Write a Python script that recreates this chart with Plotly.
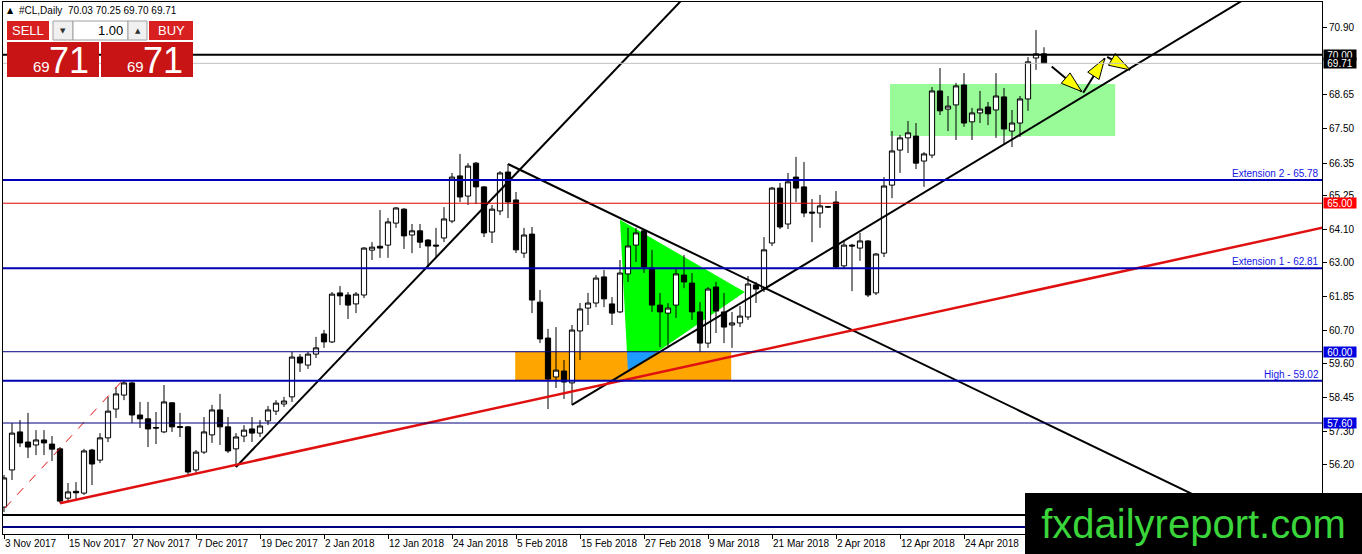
import plotly.graph_objects as go

# ---------------- data ----------------
opens = [54.77, 56.02, 57.30, 56.96, 56.86, 57.03, 56.89, 56.73, 55.07, 55.30,
         55.24, 56.69, 56.35, 57.10, 58.07, 58.54, 58.95, 57.87, 57.74, 57.45,
         57.30, 58.28, 57.48, 57.47, 56.02, 56.62, 57.20, 58.04, 57.47, 56.73,
         57.16, 57.40, 57.26, 57.67, 58.00, 58.24, 58.48, 59.82, 59.55, 59.92,
         60.60, 60.33, 61.98, 61.91, 61.61, 61.91, 63.42, 63.55, 63.59, 64.33,
         64.80, 63.93, 64.07, 63.76, 63.59, 63.83, 64.40, 65.92, 65.24, 66.35,
         65.55, 64.03, 64.74, 66.05, 65.11, 63.32, 63.96, 61.67, 60.46, 59.15,
         59.35, 58.95, 60.70, 61.47, 61.64, 62.52, 61.61, 61.34, 62.62, 63.59,
         64.07, 62.82, 61.57, 61.30, 61.57, 62.58, 62.31, 61.34, 60.29, 62.18,
         61.34, 60.90, 60.97, 61.17, 62.25, 62.11, 63.66, 65.51, 64.30, 65.88,
         65.55, 64.70, 64.67, 64.89, 65.04, 62.89, 63.59, 63.49, 63.73, 61.98,
         63.32, 65.61, 66.79, 67.20, 67.26, 66.42, 66.62, 68.78, 68.17, 68.31,
         68.98, 67.74, 68.04, 68.24, 68.14, 68.58, 67.43, 67.70, 68.51, 69.89,
         70.03]
highs = [55.85, 57.60, 57.70, 57.94, 57.36, 57.36, 57.16, 56.79, 55.58, 55.61,
         56.73, 56.73, 57.26, 58.48, 58.81, 59.01, 58.98, 58.31, 58.31, 57.97,
         58.88, 58.30, 57.94, 57.50, 56.69, 57.80, 58.21, 58.58, 57.80, 57.26,
         57.53, 57.80, 57.70, 58.17, 58.37, 58.48, 59.99, 59.92, 59.99, 60.50,
         60.73, 62.01, 62.21, 62.01, 62.01, 63.52, 63.69, 64.77, 64.50, 64.87,
         64.84, 64.30, 64.30, 63.79, 64.17, 64.87, 66.02, 66.66, 66.35, 66.39,
         65.58, 64.94, 66.08, 66.32, 65.38, 64.17, 64.20, 62.08, 60.77, 60.83,
         59.72, 60.90, 61.64, 61.98, 62.58, 62.75, 61.84, 63.09, 64.17, 64.17,
         64.13, 63.43, 61.98, 61.64, 62.82, 63.26, 62.65, 61.67, 62.18, 62.35,
         61.98, 61.34, 61.54, 62.55, 62.35, 63.86, 65.55, 65.68, 66.02, 66.56,
         66.39, 65.14, 65.28, 64.91, 65.41, 63.76, 63.63, 64.00, 63.76, 63.32,
         65.88, 67.43, 67.30, 67.77, 67.70, 66.72, 68.91, 69.55, 68.61, 69.05,
         69.38, 68.21, 68.78, 68.41, 69.38, 68.88, 68.14, 68.61, 69.92, 70.83,
         70.25]
lows = [54.60, 55.68, 56.79, 56.42, 56.52, 56.52, 56.32, 54.90, 54.94, 55.01,
        55.18, 55.51, 56.25, 56.96, 57.77, 58.37, 57.60, 57.43, 56.79, 56.89,
        57.26, 57.30, 57.13, 55.85, 55.92, 56.56, 56.93, 56.86, 56.59, 56.12,
        56.96, 56.96, 57.13, 57.53, 57.87, 58.14, 58.31, 59.32, 59.42, 59.79,
        60.13, 60.29, 61.57, 61.10, 61.30, 61.81, 63.09, 63.16, 63.16, 64.17,
        63.46, 63.32, 63.49, 62.85, 63.20, 63.69, 64.33, 65.04, 64.94, 64.97,
        63.86, 63.66, 64.60, 64.50, 63.32, 63.16, 61.30, 60.29, 58.07, 58.78,
        58.41, 58.21, 59.72, 60.90, 61.50, 61.50, 60.90, 61.30, 62.35, 63.02,
        62.65, 61.34, 60.16, 60.16, 61.14, 62.14, 61.07, 59.99, 60.13, 60.63,
        60.29, 60.13, 60.83, 61.07, 61.64, 62.01, 63.56, 64.13, 64.13, 65.04,
        64.53, 63.69, 64.17, 64.84, 62.82, 62.82, 62.04, 63.06, 61.84, 61.91,
        63.19, 65.17, 66.02, 66.69, 66.15, 65.55, 66.52, 67.97, 67.43, 67.13,
        67.57, 67.13, 67.70, 67.63, 67.20, 66.96, 66.89, 67.23, 68.11, 69.49,
        69.70]
closes = [55.75, 57.26, 56.93, 56.79, 57.03, 56.93, 56.72, 54.97, 55.28, 55.25,
          56.66, 56.22, 57.10, 58.00, 58.58, 58.95, 57.87, 57.74, 57.40, 57.43,
          58.31, 57.47, 57.45, 55.95, 56.62, 57.30, 58.04, 57.47, 56.66, 57.13,
          57.36, 57.26, 57.50, 58.04, 58.27, 58.34, 59.82, 59.62, 59.92, 60.13,
          60.33, 61.94, 61.88, 61.57, 61.94, 63.49, 63.52, 63.49, 64.37, 64.84,
          63.90, 64.07, 63.69, 63.56, 63.56, 64.47, 65.88, 65.21, 66.25, 65.55,
          64.00, 64.80, 66.02, 65.04, 63.43, 63.93, 61.74, 60.43, 59.08, 59.38,
          58.98, 60.73, 61.44, 61.64, 62.48, 61.78, 61.30, 62.65, 63.56, 64.00,
          62.85, 61.57, 61.34, 61.47, 62.62, 62.35, 61.34, 60.29, 62.11, 61.37,
          60.83, 60.97, 61.20, 62.28, 62.11, 63.43, 65.51, 64.20, 65.72, 65.51,
          64.67, 64.67, 64.91, 64.87, 62.85, 63.59, 63.56, 63.73, 61.91, 63.29,
          65.58, 66.76, 67.20, 67.37, 66.35, 66.66, 68.78, 68.11, 68.27, 68.95,
          67.70, 68.04, 68.17, 68.01, 68.61, 67.50, 67.70, 68.51, 69.76, 70.03,
          69.71]
bar_index = list(range(len(opens)))

date_tick_bars = [0, 8, 16, 24, 32, 40, 48, 56, 64, 72, 80, 88, 96, 104, 112, 120]
date_tick_labels = ["3 Nov 2017", "15 Nov 2017", "27 Nov 2017", "7 Dec 2017", "19 Dec 2017",
                    "2 Jan 2018", "12 Jan 2018", "24 Jan 2018", "5 Feb 2018", "15 Feb 2018",
                    "27 Feb 2018", "9 Mar 2018", "21 Mar 2018", "2 Apr 2018", "12 Apr 2018",
                    "24 Apr 2018"]
price_ticks = [70.90, 68.65, 67.50, 66.35, 65.25, 64.10, 63.00, 61.85,
               60.70, 59.60, 58.45, 57.30, 56.20, 55.10]

# horizontal levels
level_prices = [70.00, 69.71, 65.78, 65.00, 62.81, 60.00, 59.02, 57.60, 54.50, 54.10]
level_colors = ["#000000", "#C0C0C0", "#0000B4", "#E00000", "#0000B4",
                "#000080", "#0000B4", "#000080", "#000000", "#000080"]
level_widths = [2, 1, 2, 1, 2, 1, 2, 1, 2, 2]

level_text = ["Extension 2 - 65.78", "Extension 1 - 62.81", "High - 59.02"]
level_text_prices = [65.78, 62.81, 59.02]

tag_prices = [70.00, 69.71, 65.00, 60.00, 57.60]
tag_colors = ["#000000", "#000000", "#FF0000", "#0000E0", "#0000E0"]

# trend lines (bar index, price)
steep_x, steep_y = [29, 90], [56.12, 73.33]
falling_x, falling_y = [63, 170], [66.32, 52.42]
rising_x, rising_y = [71, 160], [58.21, 72.67]
red_x, red_y = [7, 170], [54.90, 64.48]
dash_x, dash_y = [0.125, 14.75], [54.74, 59.01]

# zones
orange_zone = dict(x0=63.9, x1=90.9, y0=59.02, y1=60.00)
green_zone = dict(x0=110.75, x1=138.9, y0=67.26, y1=69.01)
triangle_x, triangle_y = [77, 92.6, 78], [64.44, 62.01, 59.32]
overlap_x, overlap_y = [77.87, 81.69, 78], [60.00, 60.00, 59.32]

# yellow arrows
arrow_start_x = [130.96, 134.9, 137.9]
arrow_start_y = [69.60, 68.72, 69.93]
arrow_tip_x = [134.71, 137.6, 140.75]
arrow_tip_y = [68.76, 69.88, 69.49]
arrow_angle = [130, 33, 120]

# ---------------- layout helpers ----------------
W, H = 1362, 554
ML, MR, MT, MB = 3, 40, 2, 20
PW, PH = W - ML - MR, H - MT - MB
FONT = "Liberation Sans, Arial, sans-serif"


def fx(px):
    return (px - ML) / PW


def fy(py):
    return (H - MB - py) / PH


def poly(xs, ys):
    return "M" + " L".join(f"{x},{y}" for x, y in zip(xs, ys)) + " Z"


fig = go.Figure()

fig.add_trace(go.Candlestick(
    x=bar_index, open=opens, high=highs, low=lows, close=closes,
    increasing=dict(line=dict(color="black", width=1), fillcolor="white"),
    decreasing=dict(line=dict(color="black", width=1), fillcolor="black"),
    whiskerwidth=0, showlegend=False, hoverinfo="skip"))

for xs, ys, col, wd, dash in [
        (steep_x, steep_y, "black", 2, "solid"),
        (falling_x, falling_y, "black", 2, "solid"),
        (rising_x, rising_y, "black", 2, "solid"),
        (red_x, red_y, "#E01010", 2.5, "solid"),
        (dash_x, dash_y, "#E01010", 1, "dash")]:
    fig.add_trace(go.Scatter(x=xs, y=ys, mode="lines", showlegend=False,
                             hoverinfo="skip",
                             line=dict(color=col, width=wd, dash=dash)))

for i in range(len(arrow_tip_x)):
    fig.add_trace(go.Scatter(x=[arrow_start_x[i], arrow_tip_x[i]],
                             y=[arrow_start_y[i], arrow_tip_y[i]],
                             mode="lines", line=dict(color="black", width=2),
                             showlegend=False, hoverinfo="skip"))
fig.add_trace(go.Scatter(x=arrow_tip_x, y=arrow_tip_y, mode="markers",
                         marker=dict(symbol="arrow", size=22, angle=arrow_angle,
                                     color="#FFFF00",
                                     line=dict(color="black", width=1)),
                         showlegend=False, hoverinfo="skip"))

shapes = []
shapes.append(dict(type="path", path=poly(triangle_x, triangle_y), xref="x", yref="y",
                   fillcolor="#00FF00", line=dict(width=0), layer="below"))
shapes.append(dict(type="rect", xref="x", yref="y", fillcolor="#FFA500",
                   line=dict(width=0), layer="below", **orange_zone))
shapes.append(dict(type="path", path=poly(overlap_x, overlap_y), xref="x", yref="y",
                   fillcolor="#1E9BFF", line=dict(width=0), layer="below"))
shapes.append(dict(type="rect", xref="x", yref="y", fillcolor="#98FB98",
                   line=dict(width=0), layer="below", **green_zone))

for p, c, w in zip(level_prices, level_colors, level_widths):
    shapes.append(dict(type="line", xref="paper", yref="y", x0=0, x1=1, y0=p, y1=p,
                       line=dict(color=c, width=w), layer="above"))


def rect_px(x0, y0, x1, y1, fill, edge=None):
    return dict(type="rect", xref="paper", yref="paper",
                x0=fx(x0), x1=fx(x1), y0=fy(y1), y1=fy(y0), fillcolor=fill,
                line=dict(width=1 if edge else 0, color=edge or fill), layer="above")


# one-click trading panel
shapes += [
    rect_px(7, 21, 49, 40, "#D82020"),
    rect_px(53, 21, 73, 40, "#F0F0F0", "#A0A0A0"),
    rect_px(73, 21, 128, 40, "#FFFFFF", "#A0A0A0"),
    rect_px(128, 21, 147, 40, "#F0F0F0", "#A0A0A0"),
    rect_px(149, 21, 193, 40, "#D82020"),
    rect_px(7, 42, 99, 77, "#C81414"),
    rect_px(101, 42, 193, 77, "#C81414"),
]

annotations = []


def text_px(x, y, text, size, color, xanchor="center", yanchor="middle", family=FONT):
    return dict(xref="paper", yref="paper", x=fx(x), y=fy(y), text=text,
                showarrow=False, xanchor=xanchor, yanchor=yanchor,
                font=dict(size=size, color=color, family=family))


annotations += [
    text_px(5, 11, "\u25B2", 8, "black", xanchor="left", family="DejaVu Sans"),
    text_px(17, 11, "#CL,Daily  70.03 70.25 69.70 69.71", 10, "black", xanchor="left"),
    text_px(28, 30.5, "SELL", 13, "white"),
    text_px(171, 30.5, "BUY", 13, "white"),
    text_px(63, 30.5, "\u25BC", 7, "#303030", family="DejaVu Sans"),
    text_px(137.5, 30.5, "\u25B2", 7, "#303030", family="DejaVu Sans"),
    text_px(125, 30.5, "1.00", 13, "black", xanchor="right"),
    text_px(41, 67, "69", 15, "white"),
    text_px(69, 60, "71", 36, "white"),
    text_px(135, 67, "69", 15, "white"),
    text_px(163, 60, "71", 36, "white"),
]

for t, p in zip(level_text, level_text_prices):
    annotations.append(dict(xref="paper", yref="y", x=fx(1320), y=p, text=t,
                            showarrow=False, xanchor="right", yanchor="bottom",
                            borderpad=0, yshift=0,
                            font=dict(size=10, color="#1414E6", family=FONT)))

for p, c in zip(tag_prices, tag_colors):
    annotations.append(dict(xref="paper", yref="y", x=fx(1323), y=p, text=f"{p:.2f}",
                            showarrow=False, xanchor="left", yanchor="middle",
                            bgcolor=c, width=32, height=10, borderpad=0,
                            font=dict(size=10, color="white", family=FONT)))

annotations.append(dict(xref="paper", yref="paper", x=fx(1025), y=fy(554),
                        xanchor="left", yanchor="bottom", width=337, height=61,
                        bgcolor="black", borderpad=0, borderwidth=0,
                        text="fxdailyreport.com", showarrow=False,
                        align="center", valign="middle",
                        font=dict(size=40, color="#3AD53A",
                                  family="Liberation Sans, Arial, sans-serif")))

fig.update_layout(
    width=W, height=H,
    margin=dict(l=ML, r=MR, t=MT, b=MB, pad=0, autoexpand=False),
    paper_bgcolor="white", plot_bgcolor="white",
    shapes=shapes, annotations=annotations,
    boxgap=0.35, boxgroupgap=0,
    showlegend=False,
    xaxis=dict(range=[-0.125, 164.75], rangeslider=dict(visible=False),
               automargin=False, tickangle=0,
               showgrid=False, zeroline=False, showline=True, mirror=True,
               linecolor="black", linewidth=1, ticks="outside", ticklen=4,
               tickcolor="black", tickvals=date_tick_bars, ticktext=date_tick_labels,
               ticklabelposition="outside right",
               tickfont=dict(size=10, color="black", family=FONT)),
    yaxis=dict(range=[53.863, 71.775], side="right", automargin=False,
               showgrid=False, zeroline=False, showline=True, mirror=True,
               linecolor="black", linewidth=1, ticks="outside", ticklen=4,
               tickcolor="black", tickvals=price_ticks,
               ticktext=[f"{v:.2f}" for v in price_ticks],
               tickfont=dict(size=10, color="black", family=FONT)),
)

fig.write_html("out.html", config={"displayModeBar": False},
               post_script="document.body.style.margin='0px';"
                           "document.body.style.overflow='hidden';")
